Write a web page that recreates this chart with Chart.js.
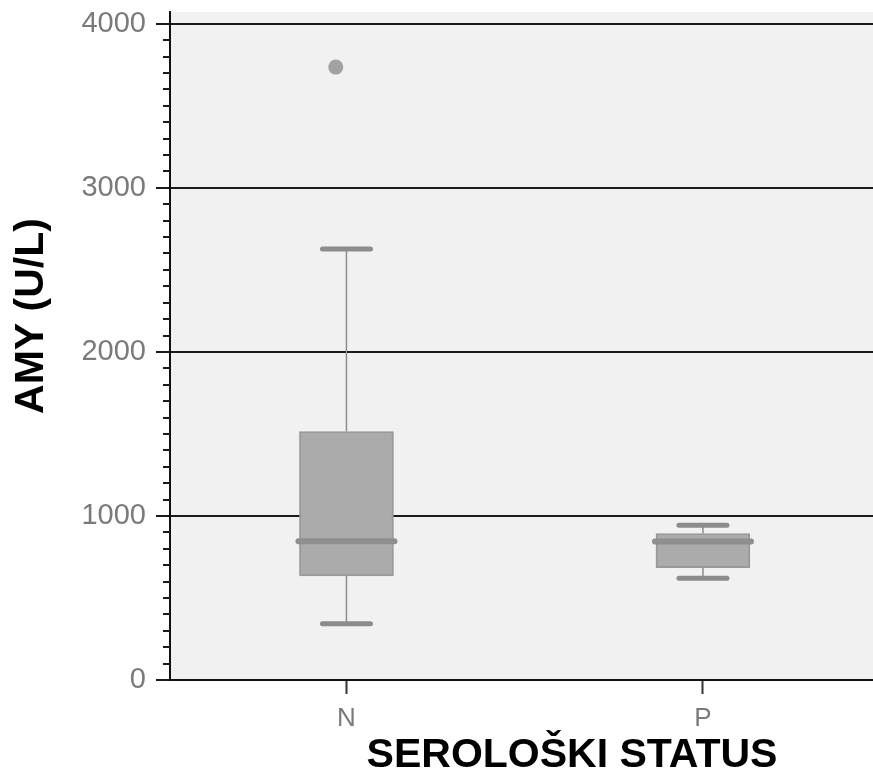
<!DOCTYPE html>
<html>
<head>
<meta charset="utf-8">
<script src="https://cdn.jsdelivr.net/npm/chart.js@4/dist/chart.umd.min.js"></script>
<style>
  html, body { margin: 0; padding: 0; background: #fff; overflow: hidden; }
  #wrap { width: 873px; height: 774px; position: relative; }
</style>
</head>
<body>
<div id="wrap"><canvas id="chart"></canvas></div>
<script>
// box plot values per group
var categories = ['N', 'P'];
var catPos = [0, 1];
var whiskerLow = [343, 620];
var q1 = [634, 685];
var median = [846, 844];
var q3 = [1515, 893];
var whiskerHigh = [2628, 944];

// outliers (x is the group position with its small jitter)
var outlierValues = [3736];
var outlierPos = [-0.03];

var yTicks = [0, 1000, 2000, 3000, 4000];
var yTitle = 'AMY (U/L)';
var xTitle = 'SEROLOŠKI STATUS';

var FONT = "'Liberation Sans', Arial, Helvetica, sans-serif";

// gray plot background
var plotBackground = {
    id: 'plotBackground',
    beforeDraw: function(chart) {
        var a = chart.chartArea, ctx = chart.ctx;
        ctx.save();
        ctx.fillStyle = '#f1f1f1';
        ctx.fillRect(a.left, a.top, a.right - a.left, a.bottom - a.top);
        ctx.restore();
    }
};

// whiskers, caps and medians on top of the floating bars
var boxParts = {
    id: 'boxParts',
    afterDatasetsDraw: function(chart) {
        var x = chart.scales.x, y = chart.scales.y, ctx = chart.ctx;
        ctx.save();
        catPos.forEach(function(p, i) {
            var cx = x.getPixelForValue(p);

            ctx.strokeStyle = '#8c8c8c';
            ctx.lineWidth = 1.5;
            ctx.lineCap = 'butt';
            ctx.beginPath();
            ctx.moveTo(cx, y.getPixelForValue(q3[i]));
            ctx.lineTo(cx, y.getPixelForValue(whiskerHigh[i]));
            ctx.moveTo(cx, y.getPixelForValue(q1[i]));
            ctx.lineTo(cx, y.getPixelForValue(whiskerLow[i]));
            ctx.stroke();

            ctx.lineWidth = 5;
            ctx.lineCap = 'round';
            [whiskerLow[i], whiskerHigh[i]].forEach(function(v) {
                var py = y.getPixelForValue(v);
                ctx.beginPath();
                ctx.moveTo(cx - 24, py);
                ctx.lineTo(cx + 24, py);
                ctx.stroke();
            });

            ctx.strokeStyle = '#8e8e8e';
            ctx.lineWidth = 6;
            var my = y.getPixelForValue(median[i]);
            ctx.beginPath();
            ctx.moveTo(cx - 48, my);
            ctx.lineTo(cx + 48, my);
            ctx.stroke();
        });
        ctx.restore();
    }
};

// minor y ticks every 100
var minorTicks = {
    id: 'minorTicks',
    afterDraw: function(chart) {
        var y = chart.scales.y, ctx = chart.ctx, left = chart.chartArea.left;
        ctx.save();
        ctx.strokeStyle = '#1a1a1a';
        ctx.lineWidth = 2;
        ctx.beginPath();
        for (var v = 100; v < 4000; v += 100) {
            if (v % 1000 === 0) continue;
            var py = Math.round(y.getPixelForValue(v));
            ctx.moveTo(left - 7, py);
            ctx.lineTo(left, py);
        }
        ctx.stroke();
        ctx.restore();
    }
};

// axis titles
var axisTitles = {
    id: 'axisTitles',
    afterDraw: function(chart) {
        var ctx = chart.ctx, a = chart.chartArea;
        ctx.save();
        ctx.fillStyle = '#000';
        ctx.font = 'bold 41px ' + FONT;
        ctx.textAlign = 'center';
        ctx.textBaseline = 'alphabetic';
        ctx.fillText(xTitle, a.left + 402, chart.height - 7);
        ctx.translate(43, a.top + 304);
        ctx.rotate(-Math.PI / 2);
        ctx.fillText(yTitle, 0, 0);
        ctx.restore();
    }
};

new Chart(document.getElementById('chart'), {
    type: 'bar',
    data: {
        datasets: [
            {
                type: 'bar',
                data: catPos.map(function(p, i) { return { x: p, y: [q1[i], q3[i]] }; }),
                backgroundColor: '#ababab',
                borderColor: '#999999',
                borderWidth: 2,
                borderSkipped: false,
                barThickness: 94
            },
            {
                type: 'scatter',
                data: outlierValues.map(function(v, i) { return { x: outlierPos[i], y: v }; }),
                pointRadius: 7.5,
                backgroundColor: '#a2a2a2',
                borderWidth: 0
            }
        ]
    },
    options: {
        responsive: true,
        maintainAspectRatio: false,
        animation: false,
        layout: {
            autoPadding: false,
            padding: { top: 12, left: 0, right: 0, bottom: 0 }
        },
        plugins: {
            legend: { display: false },
            tooltip: { enabled: false }
        },
        scales: {
            x: {
                type: 'linear',
                min: -0.495,
                max: 1.477,
                offset: false,
                afterBuildTicks: function(s) {
                    s.ticks = catPos.map(function(v) { return { value: v }; });
                },
                afterFit: function(s) {
                    s.height = 94;
                    s.paddingLeft = 0;
                    s.paddingRight = 0;
                },
                ticks: {
                    callback: function(v) { return categories[catPos.indexOf(v)]; },
                    color: '#7a7a7a',
                    font: { family: FONT, size: 26 },
                    padding: 9,
                    maxRotation: 0,
                    autoSkip: false
                },
                grid: {
                    offset: false,
                    drawOnChartArea: false,
                    tickLength: 14,
                    tickColor: '#333',
                    tickWidth: 2
                },
                border: { display: true, color: '#111', width: 2 }
            },
            y: {
                min: 0,
                max: 4072,
                afterBuildTicks: function(s) {
                    s.ticks = yTicks.map(function(v) { return { value: v }; });
                },
                afterFit: function(s) {
                    s.width = 170;
                    s.paddingTop = 0;
                    s.paddingBottom = 0;
                },
                ticks: {
                    callback: function(v) { return String(v); },
                    color: '#7a7a7a',
                    font: { family: FONT, size: 29 },
                    padding: 10
                },
                grid: {
                    color: '#1a1a1a',
                    lineWidth: 2,
                    tickLength: 14,
                    tickColor: '#1a1a1a',
                    tickWidth: 2
                },
                border: { display: true, color: '#111', width: 2 }
            }
        }
    },
    plugins: [plotBackground, boxParts, minorTicks, axisTitles]
});
</script>
</body>
</html>
